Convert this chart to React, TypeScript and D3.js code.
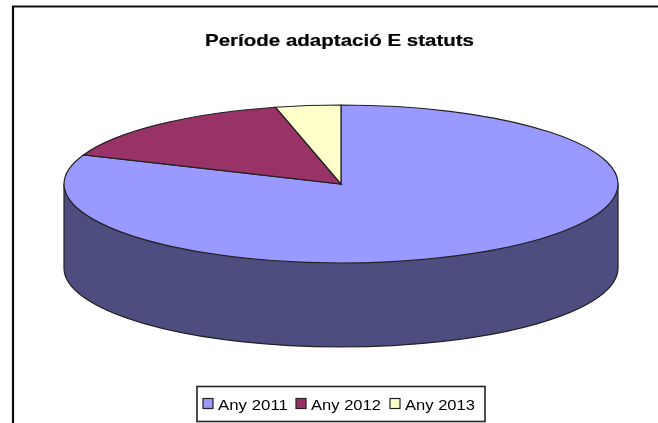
import React from "react";
import * as d3 from "d3";

const title = "Període adaptació E statuts";
const categories = ["Any 2011", "Any 2012", "Any 2013"];
const values = [81, 15.2, 3.8];
const colors = ["#9999FF", "#993366", "#FFFFCC"];
const sideColor = "#4D4D80";

const W = 658, H = 423;
const cx = 341, cy = 184, rx = 277, ry = 79, depth = 84;

export default function App() {
  const pie = d3.pie<number>().sort(null).value(d => d);
  const arcs = pie(values);
  const arc = d3.arc<d3.PieArcDatum<number>>().innerRadius(0).outerRadius(rx);
  const legendX = [203, 296, 390];
  return (
    <svg width={W} height={H} style={{ position: "absolute", left: 0, top: 0, background: "#fff" }}>
      <defs>
        <filter id="soft" filterUnits="userSpaceOnUse" x={0} y={0} width={W} height={H}>
          <feGaussianBlur stdDeviation="0.6" />
        </filter>
      </defs>
      <g filter="url(#soft)">
        <path d={`M13,${H + 5} V6.5 H${W + 5}`} fill="none" stroke="#111" strokeWidth={2.2} />
        <text x={205} y={45.5} fontFamily="Liberation Sans" fontWeight="bold" fontSize={17} fill="#000" stroke="#000" strokeWidth={0.2} textLength={269} lengthAdjust="spacingAndGlyphs">{title}</text>
        <path
          d={`M${cx - rx},${cy} V${cy + depth} A${rx},${ry} 0 0 0 ${cx + rx},${cy + depth} V${cy} Z`}
          fill={sideColor} stroke="#222" strokeWidth={1.2}
        />
        <g transform={`translate(${cx},${cy}) scale(1,${ry / rx})`}>
          {arcs.map((a, i) => (
            <path key={i} d={arc(a) ?? ""} fill={colors[i]} stroke="#222" strokeWidth={1.2} vectorEffect="non-scaling-stroke" />
          ))}
        </g>
        <rect x={197} y={386.5} width={288} height={35} fill="#fff" stroke="#222" strokeWidth={1.6} />
        {categories.map((c, i) => (
          <g key={c}>
            <rect x={legendX[i]} y={398.5} width={10} height={10} fill={colors[i]} stroke="#222" strokeWidth={1.2} />
            <text x={legendX[i] + 15} y={410} fontFamily="Liberation Sans" fontSize={15.5} fill="#000" textLength={70} lengthAdjust="spacingAndGlyphs">{c}</text>
          </g>
        ))}
      </g>
    </svg>
  );
}
